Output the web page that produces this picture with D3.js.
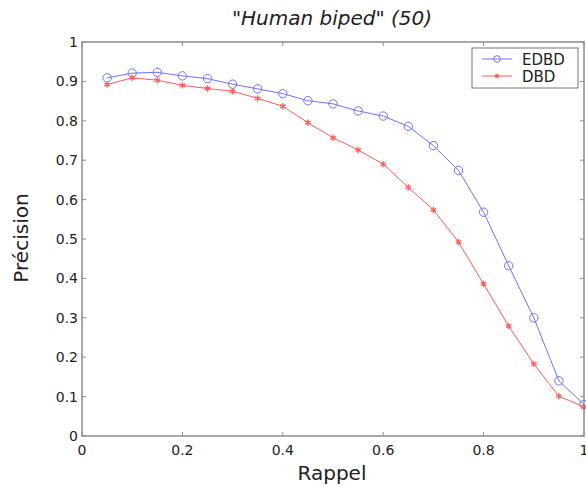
<!DOCTYPE html>
<html>
<head>
<meta charset="utf-8">
<script src="https://cdn.jsdelivr.net/npm/d3@7"></script>
<style>
  body { margin: 0; background: #fff; }
  svg text { font-family: "DejaVu Sans", Verdana, sans-serif; fill: #222; }
</style>
</head>
<body>
<svg id="chart" width="586" height="487"></svg>
<script>
"use strict";

// rappel (x)
var rappel = [0.05, 0.1, 0.15, 0.2, 0.25, 0.3, 0.35, 0.4, 0.45, 0.5,
              0.55, 0.6, 0.65, 0.7, 0.75, 0.8, 0.85, 0.9, 0.95, 1.0];
// précision EDBD
var edbd = [0.909, 0.921, 0.923, 0.914, 0.907, 0.893, 0.881, 0.869, 0.851, 0.843,
            0.825, 0.812, 0.786, 0.737, 0.674, 0.568, 0.432, 0.300, 0.140, 0.080];
// précision DBD
var dbd = [0.892, 0.909, 0.903, 0.890, 0.882, 0.875, 0.857, 0.837, 0.795, 0.757,
           0.726, 0.690, 0.631, 0.574, 0.492, 0.386, 0.279, 0.183, 0.101, 0.074];
var xTicks = [0, 0.2, 0.4, 0.6, 0.8, 1];
var yTicks = [0, 0.1, 0.2, 0.3, 0.4, 0.5, 0.6, 0.7, 0.8, 0.9, 1];

(function () {
    var svg = d3.select("#chart");
    var mLeft = 82, mRight = 584, mTop = 42, mBottom = 436;

    var x = d3.scaleLinear().domain([0, 1]).range([mLeft, mRight]);
    var y = d3.scaleLinear().domain([0, 1]).range([mBottom, mTop]);

    var axisColor = "#8c8c8c";
    var tickLen = 4;

    // cadre
    svg.append("rect")
        .attr("x", mLeft).attr("y", mTop)
        .attr("width", mRight - mLeft).attr("height", mBottom - mTop)
        .attr("fill", "none").attr("stroke", axisColor).attr("stroke-width", 1.5);

    // ticks intérieurs
    var gTicks = svg.append("g").attr("stroke", axisColor).attr("stroke-width", 1);
    xTicks.forEach(function (t) {
        gTicks.append("line").attr("x1", x(t)).attr("x2", x(t)).attr("y1", mBottom).attr("y2", mBottom - tickLen);
        gTicks.append("line").attr("x1", x(t)).attr("x2", x(t)).attr("y1", mTop).attr("y2", mTop + tickLen);
    });
    yTicks.forEach(function (t) {
        gTicks.append("line").attr("x1", mLeft).attr("x2", mLeft + tickLen).attr("y1", y(t)).attr("y2", y(t));
        gTicks.append("line").attr("x1", mRight).attr("x2", mRight - tickLen).attr("y1", y(t)).attr("y2", y(t));
    });

    // labels des ticks
    svg.append("g").selectAll("text").data(xTicks).enter().append("text")
        .attr("x", function (d) { return x(d); })
        .attr("y", mBottom + 19)
        .attr("text-anchor", "middle")
        .attr("font-size", 14)
        .text(function (d) { return d3.format("~g")(d); });

    svg.append("g").selectAll("text").data(yTicks).enter().append("text")
        .attr("x", mLeft - 4)
        .attr("y", function (d) { return y(d) + 5; })
        .attr("text-anchor", "end")
        .attr("font-size", 14)
        .text(function (d) { return d3.format("~g")(d); });

    // titres
    svg.append("text")
        .attr("x", 332).attr("y", 25)
        .attr("text-anchor", "middle")
        .attr("font-size", 20)
        .attr("font-style", "italic")
        .text("\"Human biped\" (50)");

    svg.append("text")
        .attr("x", 332).attr("y", 480)
        .attr("text-anchor", "middle")
        .attr("font-size", 20)
        .text("Rappel");

    svg.append("text")
        .attr("transform", "translate(28,238) rotate(-90)")
        .attr("text-anchor", "middle")
        .attr("font-size", 20)
        .text("Précision");

    // séries
    var blue = "#7070ff", red = "#ff5a5a";
    var line = d3.line()
        .x(function (d) { return x(d[0]); })
        .y(function (d) { return y(d[1]); });

    var edbdPts = d3.zip(rappel, edbd);
    var dbdPts = d3.zip(rappel, dbd);

    svg.append("path").datum(edbdPts).attr("d", line)
        .attr("fill", "none").attr("stroke", blue).attr("stroke-width", 1);
    svg.append("path").datum(dbdPts).attr("d", line)
        .attr("fill", "none").attr("stroke", red).attr("stroke-width", 1);

    var star = d3.symbol().type(d3.symbolAsterisk).size(28);

    svg.append("g").selectAll("circle").data(edbdPts).enter().append("circle")
        .attr("cx", function (d) { return x(d[0]); })
        .attr("cy", function (d) { return y(d[1]); })
        .attr("r", 4.2)
        .attr("fill", "none").attr("stroke", blue).attr("stroke-width", 1);

    svg.append("g").selectAll("path").data(dbdPts).enter().append("path")
        .attr("d", star)
        .attr("transform", function (d) { return "translate(" + x(d[0]) + "," + y(d[1]) + ")"; })
        .attr("fill", "none").attr("stroke", red).attr("stroke-width", 1.3);

    // légende
    var leg = svg.append("g");
    leg.append("rect")
        .attr("x", 472).attr("y", 48).attr("width", 106).attr("height", 40)
        .attr("fill", "#fff").attr("stroke", "#777").attr("stroke-width", 1);
    var legStar = d3.symbol().type(d3.symbolAsterisk).size(16);
    var entries = [
        { name: "EDBD", color: blue, y: 59 },
        { name: "DBD", color: red, y: 76 }
    ];
    entries.forEach(function (e, i) {
        leg.append("line").attr("x1", 482).attr("x2", 512).attr("y1", e.y).attr("y2", e.y)
            .attr("stroke", e.color).attr("stroke-width", 1);
        if (i === 0) {
            leg.append("circle").attr("cx", 497).attr("cy", e.y).attr("r", 3.3)
                .attr("fill", "none").attr("stroke", e.color);
        } else {
            leg.append("path").attr("d", legStar).attr("transform", "translate(497," + e.y + ")")
                .attr("fill", "none").attr("stroke", e.color).attr("stroke-width", 1.3);
        }
        leg.append("text").attr("x", 522).attr("y", e.y + 6)
            .attr("font-size", 15).text(e.name);
    });
})();
</script>
</body>
</html>
